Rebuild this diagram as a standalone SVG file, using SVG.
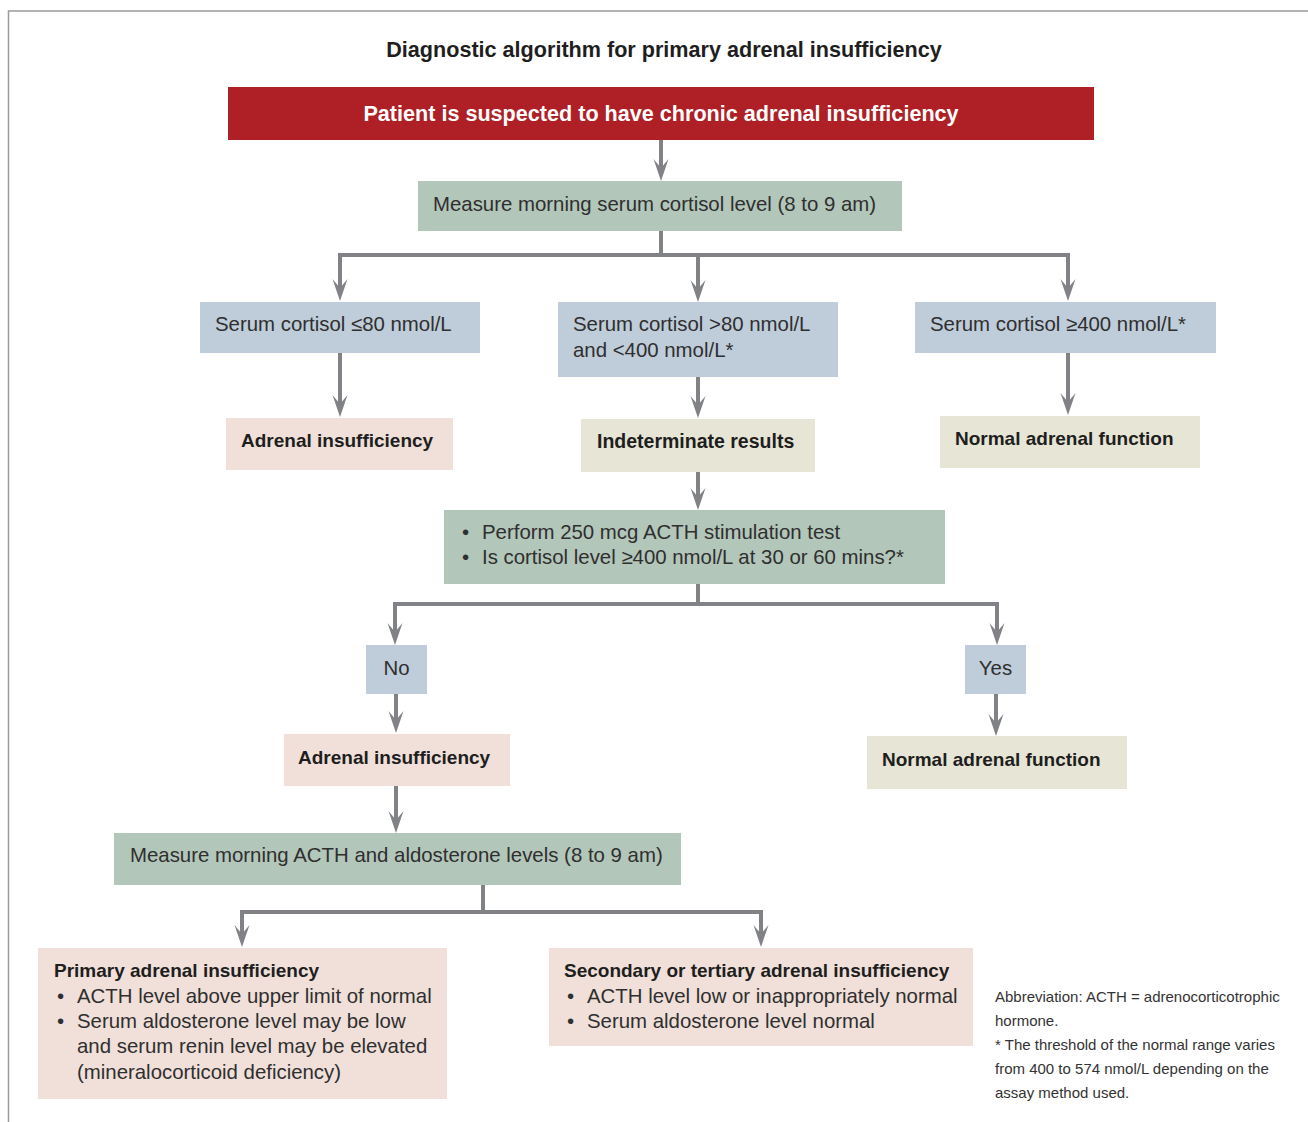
<svg xmlns="http://www.w3.org/2000/svg" width="1308" height="1122" viewBox="0 0 1308 1122">
<style>
  text { font-family: "Liberation Sans", Arial, sans-serif; fill: #2f2f2f; }
  .t { font-size: 20.4px; }
  .b { font-size: 19px; font-weight: bold; fill: #1e1e1e; }
  .title { font-size: 21.6px; font-weight: bold; fill: #1e1e1e; }
  .red { font-size: 21.6px; font-weight: bold; fill: #ffffff; }
  .fn { font-size: 15px; fill: #333333; }
  .green { fill: #b3c6ba; }
  .blue { fill: #bfccd9; }
  .pink { fill: #f0e0d9; }
  .beige { fill: #e7e5d5; }
  .conn path { fill: none; stroke: #818286; stroke-width: 4; stroke-linejoin: miter; }
</style>
<defs>
  <marker id="ah" viewBox="-23 -8 24 16" markerWidth="24" markerHeight="16" refX="-10" refY="0" orient="auto-start-reverse" markerUnits="userSpaceOnUse">
    <path d="M0,0 L-22,-7.5 L-13,0 L-22,7.5 Z" fill="#818286"/>
  </marker>
</defs>
<rect x="0" y="0" width="1308" height="1122" fill="#ffffff"/>
<path d="M8.5,1122 V11 H1308" fill="none" stroke="#9b9b9b" stroke-width="1.5"/>

<text class="title" x="664" y="57" text-anchor="middle">Diagnostic algorithm for primary adrenal insufficiency</text>

<g class="conn">
  <path d="M661,140 V171" marker-end="url(#ah)"/>
  <path d="M661,231 V255"/>
  <path d="M340,291 V255 H1068 V291" marker-start="url(#ah)" marker-end="url(#ah)"/>
  <path d="M698,255 V292" marker-end="url(#ah)"/>
  <path d="M340,353 V407" marker-end="url(#ah)"/>
  <path d="M698,377 V408" marker-end="url(#ah)"/>
  <path d="M1068,353 V405" marker-end="url(#ah)"/>
  <path d="M698,472 V500" marker-end="url(#ah)"/>
  <path d="M698,584 V604"/>
  <path d="M395,635 V604 H997 V635" marker-start="url(#ah)" marker-end="url(#ah)"/>
  <path d="M396,694 V723" marker-end="url(#ah)"/>
  <path d="M996,694 V726" marker-end="url(#ah)"/>
  <path d="M396,786 V823" marker-end="url(#ah)"/>
  <path d="M483,885 V912"/>
  <path d="M242,937 V912 H761 V937" marker-start="url(#ah)" marker-end="url(#ah)"/>
</g>

<g id="start">
  <rect x="228" y="87" width="866" height="53" fill="#ae2025"/>
  <text class="red" x="661" y="120.5" text-anchor="middle">Patient is suspected to have chronic adrenal insufficiency</text>
</g>
<g id="measure-cortisol">
  <rect class="green" x="418" y="181" width="484" height="50"/>
  <text class="t" x="433" y="211">Measure morning serum cortisol level (8 to 9 am)</text>
</g>
<g id="cortisol-low">
  <rect class="blue" x="200" y="302" width="280" height="51"/>
  <text class="t" x="215" y="331">Serum cortisol ≤80 nmol/L</text>
</g>
<g id="cortisol-mid">
  <rect class="blue" x="558" y="302" width="280" height="75"/>
  <text class="t" x="573" y="331">Serum cortisol &gt;80 nmol/L</text>
  <text class="t" x="573" y="357">and &lt;400 nmol/L*</text>
</g>
<g id="cortisol-high">
  <rect class="blue" x="915" y="302" width="301" height="51"/>
  <text class="t" x="930" y="331">Serum cortisol ≥400 nmol/L*</text>
</g>
<g id="adrenal-insufficiency-1">
  <rect class="pink" x="226" y="418" width="227" height="52"/>
  <text class="b" x="241" y="447">Adrenal insufficiency</text>
</g>
<g id="indeterminate">
  <rect class="beige" x="581" y="419" width="234" height="53"/>
  <text class="b" x="597" y="448" style="font-size:19.5px">Indeterminate results</text>
</g>
<g id="normal-1">
  <rect class="beige" x="940" y="416" width="260" height="52"/>
  <text class="b" x="955" y="445">Normal adrenal function</text>
</g>
<g id="acth-stim">
  <rect class="green" x="444" y="510" width="501" height="74"/>
  <text class="t" y="539"><tspan x="462">•</tspan><tspan x="482">Perform 250 mcg ACTH stimulation test</tspan></text>
  <text class="t" y="564"><tspan x="462">•</tspan><tspan x="482">Is cortisol level ≥400 nmol/L at 30 or 60 mins?*</tspan></text>
</g>
<g id="no">
  <rect class="blue" x="366" y="645" width="61" height="49"/>
  <text class="t" x="396.5" y="675" text-anchor="middle">No</text>
</g>
<g id="yes">
  <rect class="blue" x="965" y="645" width="61" height="49"/>
  <text class="t" x="995.5" y="675" text-anchor="middle">Yes</text>
</g>
<g id="adrenal-insufficiency-2">
  <rect class="pink" x="284" y="734" width="226" height="52"/>
  <text class="b" x="298" y="764">Adrenal insufficiency</text>
</g>
<g id="normal-2">
  <rect class="beige" x="867" y="736" width="260" height="53"/>
  <text class="b" x="882" y="766">Normal adrenal function</text>
</g>
<g id="measure-acth">
  <rect class="green" x="114" y="833" width="567" height="52"/>
  <text class="t" x="130" y="862">Measure morning ACTH and aldosterone levels (8 to 9 am)</text>
</g>
<g id="primary">
  <rect class="pink" x="38" y="948" width="409" height="151"/>
  <text class="b" x="54" y="977">Primary adrenal insufficiency</text>
  <text class="t" y="1003"><tspan x="57">•</tspan><tspan x="77">ACTH level above upper limit of normal</tspan></text>
  <text class="t" y="1028"><tspan x="57">•</tspan><tspan x="77">Serum aldosterone level may be low</tspan></text>
  <text class="t" x="77" y="1053">and serum renin level may be elevated</text>
  <text class="t" x="77" y="1079">(mineralocorticoid deficiency)</text>
</g>
<g id="secondary">
  <rect class="pink" x="549" y="948" width="424" height="98"/>
  <text class="b" x="564" y="977">Secondary or tertiary adrenal insufficiency</text>
  <text class="t" y="1003"><tspan x="567">•</tspan><tspan x="587">ACTH level low or inappropriately normal</tspan></text>
  <text class="t" y="1028"><tspan x="567">•</tspan><tspan x="587">Serum aldosterone level normal</tspan></text>
</g>
<g id="footnote">
  <text class="fn" x="995" y="1002">Abbreviation: ACTH = adrenocorticotrophic</text>
  <text class="fn" x="995" y="1026">hormone.</text>
  <text class="fn" x="995" y="1050">* The threshold of the normal range varies</text>
  <text class="fn" x="995" y="1074">from 400 to 574 nmol/L depending on the</text>
  <text class="fn" x="995" y="1098">assay method used.</text>
</g>
</svg>
